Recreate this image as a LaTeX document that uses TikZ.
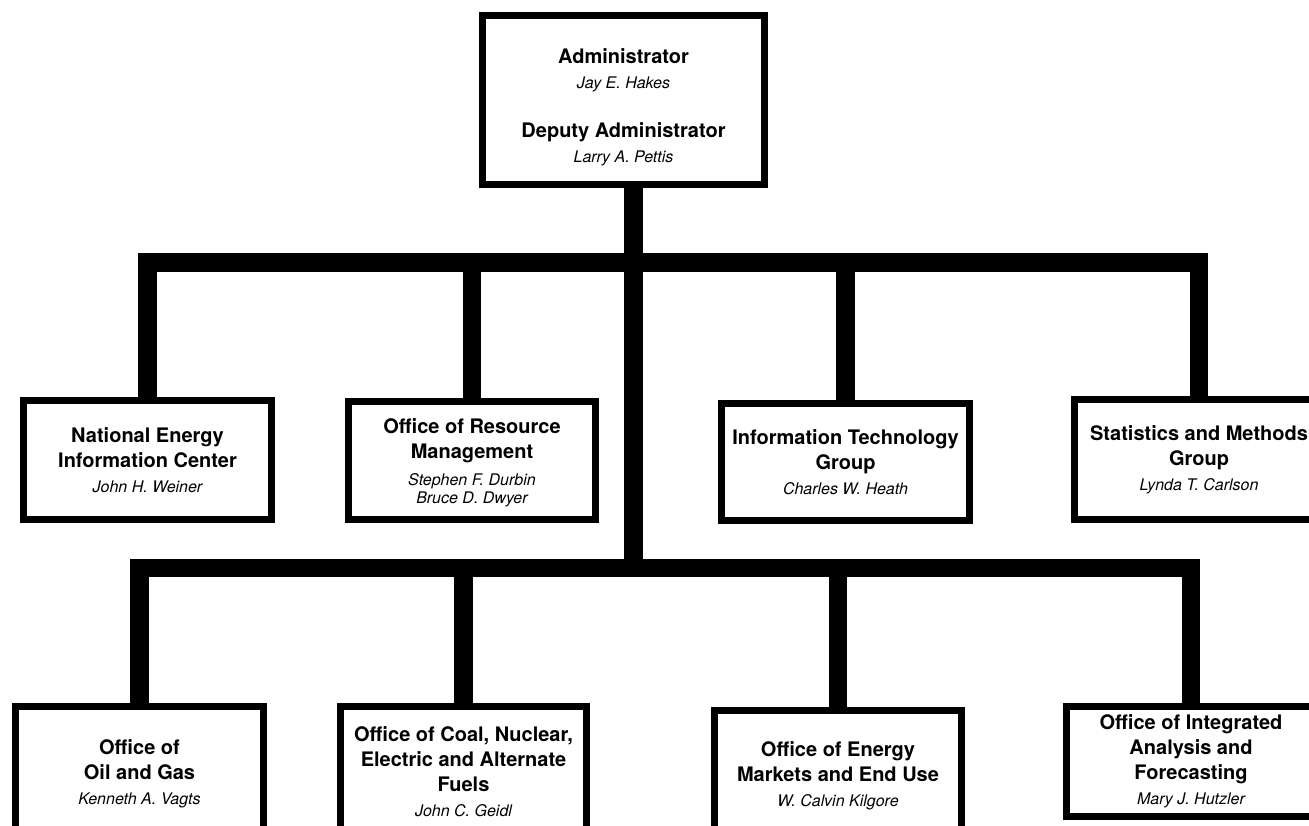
\documentclass[tikz,border=0pt]{standalone}
\usepackage{fontspec}
\setmainfont{TeX Gyre Heros}
\usepackage{tikz}
\newcommand{\who}[1]{{\fontsize{16}{25}\selectfont\mdseries\itshape #1}}

\begin{document}
\begin{tikzpicture}[x=1pt,y=-1pt,
    unit/.style={draw,line width=7pt,align=center,inner sep=2pt,
      font=\fontsize{20}{25}\selectfont\bfseries},
    bar/.style={line width=18.5pt,line join=miter}]
      \useasboundingbox (0,0) rectangle (1309,825);

      \node (adm) at (623.5,100) [unit,minimum width=282pt,minimum height=169pt]
        {\rule{0pt}{29pt}Administrator\\ \who{Jay E. Hakes}\\[24pt] Deputy Administrator\\ \who{Larry A. Pettis}};

      \node (nec) at (147.5,460) [unit,minimum width=248pt,minimum height=119pt]
        {National Energy\\ Information Center\\ \who{John H. Weiner}};
      \node (orm) at (472,460.5) [unit,minimum width=247pt,minimum height=118pt]
        {\rule{0pt}{20pt}Office of Resource\\ Management\\[2pt] \who{Stephen F. Durbin}\\[-7pt] \who{Bruce D. Dwyer}};
      \node (itg) at (845.5,462) [unit,minimum width=248pt,minimum height=117pt]
        {Information Technology\\ Group\\ \who{Charles W. Heath}};
      \node (smg) at (1199,459.5) [unit,minimum width=249pt,minimum height=120pt]
        {Statistics and Methods\\ Group\\ \who{Lynda T. Carlson}};

      \node (ogs) at (139.5,774) [unit,minimum width=248pt,minimum height=135pt]
        {Office of\\ Oil and Gas\\ \who{Kenneth A. Vagts}};
      \node (cne) at (463.5,771.5) [unit,minimum width=246pt,minimum height=130pt]
        {Office of Coal, Nuclear,\\ Electric and Alternate\\ Fuels\\ \who{John C. Geidl}};
      \node (emu) at (838,776) [unit,minimum width=247pt,minimum height=131pt]
        {Office of Energy\\ Markets and End Use\\ \who{W. Calvin Kilgore}};
      \node (iaf) at (1191,761.5) [unit,minimum width=249pt,minimum height=110pt]
        {Office of Integrated\\ Analysis and\\ Forecasting\\ \who{Mary J. Hutzler}};

      \coordinate (uphub) at (633.5,262.5);
      \coordinate (lowhub) at (633.5,568);

      \draw[bar] (adm.south -| lowhub) -- (lowhub);
      \draw[bar] (nec.north) |- (uphub) -| (smg.north);
      \draw[bar] (orm.north) -- (orm.north |- uphub);
      \draw[bar] (itg.north) -- (itg.north |- uphub);
      \draw[bar] (ogs.north) |- (lowhub) -| (iaf.north);
      \draw[bar] (cne.north) -- (cne.north |- lowhub);
      \draw[bar] (emu.north) -- (emu.north |- lowhub);

    \end{tikzpicture}
\end{document}
